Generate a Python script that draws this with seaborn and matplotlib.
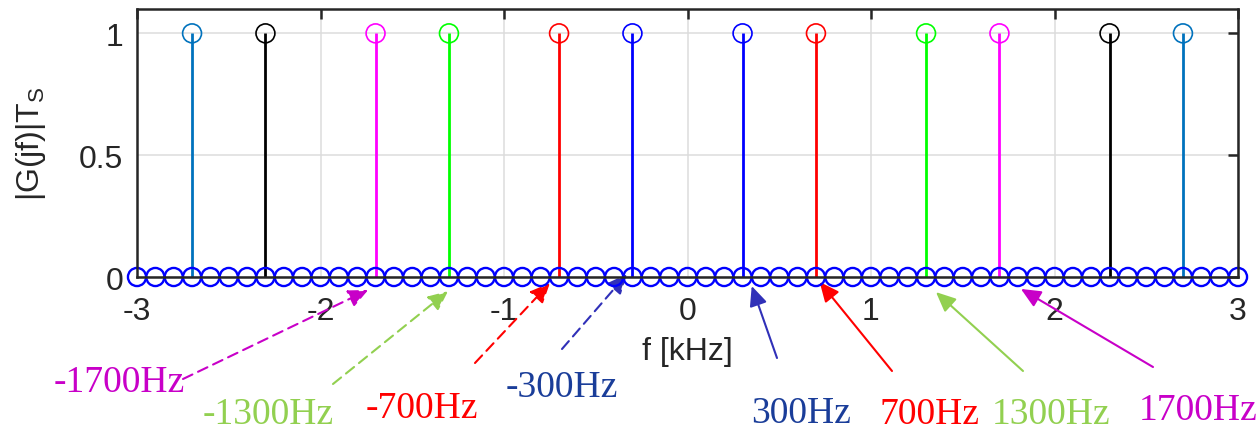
import numpy as np
import pandas as pd
import matplotlib
matplotlib.use("Agg")
import matplotlib.pyplot as plt
import seaborn as sns

# Sampling grid of the spectrum (kHz) and the line components
grid_khz = np.round(np.arange(-30, 31) / 10.0, 1)
line_khz = [-2.7, -2.3, -1.7, -1.3, -0.7, -0.3, 0.3, 0.7, 1.3, 1.7, 2.3, 2.7]
line_mag = [1, 1, 1, 1, 1, 1, 1, 1, 1, 1, 1, 1]
line_colors = ["#0072BD", "#000000", "#FF00FF", "#00FF00", "#FF0000", "#0000FF",
               "#0000FF", "#FF0000", "#00FF00", "#FF00FF", "#000000", "#0072BD"]

# Callout labels
label_hz = [-1700, -1300, -700, -300, 300, 700, 1300, 1700]
label_text = [f"{v}Hz" for v in label_hz]
label_colors = ["#C800C8", "#92D050", "#FF0000", "#1A3D99",
                "#1A3D99", "#FF0000", "#92D050", "#C800C8"]
arrow_colors = ["#C800C8", "#92D050", "#FF0000", "#3030B8",
                "#3030B8", "#FF0000", "#92D050", "#C800C8"]
arrow_dashed = [True, True, True, True, False, False, False, False]

W, H = 1256, 431
# layout of callouts (figure pixels from top-left): text baseline centre, arrow tail
text_pos = [(119, 392), (268, 424), (422, 418), (562, 397),
            (801, 423), (929, 424), (1051, 424), (1198, 420)]
tail_pos = [(183, 380), (333, 385), (475, 364), (562, 350),
            (777, 359), (892, 372), (1023, 372), (1153, 368)]
# arrow tip offset from the labelled frequency (kHz, magnitude units)
tip_off = [(-0.04, -0.053), (-0.005, -0.058), (-0.05, -0.025), (-0.03, 0.012),
           (0.05, -0.037), (0.02, -0.02), (0.054, -0.062), (0.117, -0.049)]

sns.set_theme(style="white")
plt.rcParams["font.family"] = ["Liberation Sans", "DejaVu Sans"]
plt.rcParams["mathtext.fontset"] = "custom"
plt.rcParams["mathtext.rm"] = "Liberation Sans"
plt.rcParams["mathtext.it"] = "Liberation Sans:italic"

fig = plt.figure(figsize=(W / 100, H / 100), dpi=100)
ax = fig.add_axes([137 / W, (H - 278) / H, (1238 - 137) / W, (278 - 10) / H])

lines = pd.DataFrame({"f": line_khz, "mag": line_mag, "c": line_colors})
base = pd.DataFrame({"f": grid_khz, "mag": np.zeros_like(grid_khz)})

# stems
ax.vlines(lines["f"], 0, lines["mag"], colors=lines["c"], linewidth=2.0, zorder=3)
# stem heads
sns.scatterplot(data=lines, x="f", y="mag", ax=ax, marker="o", s=185,
                facecolor="none", edgecolor=lines["c"].tolist(), linewidth=1.2,
                zorder=4, clip_on=False, legend=False)
# zero samples along the baseline
sns.scatterplot(data=base, x="f", y="mag", ax=ax, marker="o", s=170,
                facecolor="none", edgecolor="#0000FF", linewidth=1.7,
                zorder=4, clip_on=False, legend=False)

ax.set_xlim(-3, 3)
ax.set_ylim(0, 1.1)
ax.set_xticks([-3, -2, -1, 0, 1, 2, 3])
ax.set_xticklabels(["-3", "-2", "-1", "0", "1", "2", "3"])
ax.set_yticks([0, 0.5, 1])
ax.set_yticklabels(["0", "0.5", "1"])
ax.grid(True, color="#DCDCDC", linewidth=1.1)
ax.set_axisbelow(True)

for s in ax.spines.values():
    s.set_visible(True)
    s.set_color("#262626")
    s.set_linewidth(1.8)
    s.set_zorder(5)
ax.tick_params(axis="both", direction="in", length=7, width=1.8, color="#262626",
               labelsize=23, labelcolor="#262626", top=True, right=True)
ax.tick_params(axis="x", pad=14)
ax.tick_params(axis="y", pad=10)

ax.set_xlabel("f [kHz]", fontsize=23, color="#262626")
ax.xaxis.set_label_coords(0.5, -0.22)
ax.set_ylabel(r"|G(jf)|T$_\mathrm{S}$", fontsize=23, color="#262626")
ax.yaxis.set_label_coords(-0.081, 0.5)

for hz, txt, tc, ac, dashed, tp, tl, off in zip(label_hz, label_text, label_colors,
                                                 arrow_colors, arrow_dashed,
                                                 text_pos, tail_pos, tip_off):
    ls = (0, (5, 3)) if dashed else "-"
    ax.annotate("", xy=(hz / 1000 + off[0], off[1]), xycoords="data",
                xytext=(tl[0], H - tl[1]), textcoords="figure pixels",
                annotation_clip=False,
                arrowprops=dict(arrowstyle="-|>,head_length=0.6,head_width=0.27",
                                color=ac, lw=1.5, linestyle=ls, shrinkA=0, shrinkB=0,
                                mutation_scale=20))
    fig.text(tp[0] / W, 1 - tp[1] / H, txt, color=tc, fontsize=27,
             family=["Liberation Serif", "DejaVu Serif"], ha="center", va="baseline")

fig.savefig("out.png", dpi=100)
